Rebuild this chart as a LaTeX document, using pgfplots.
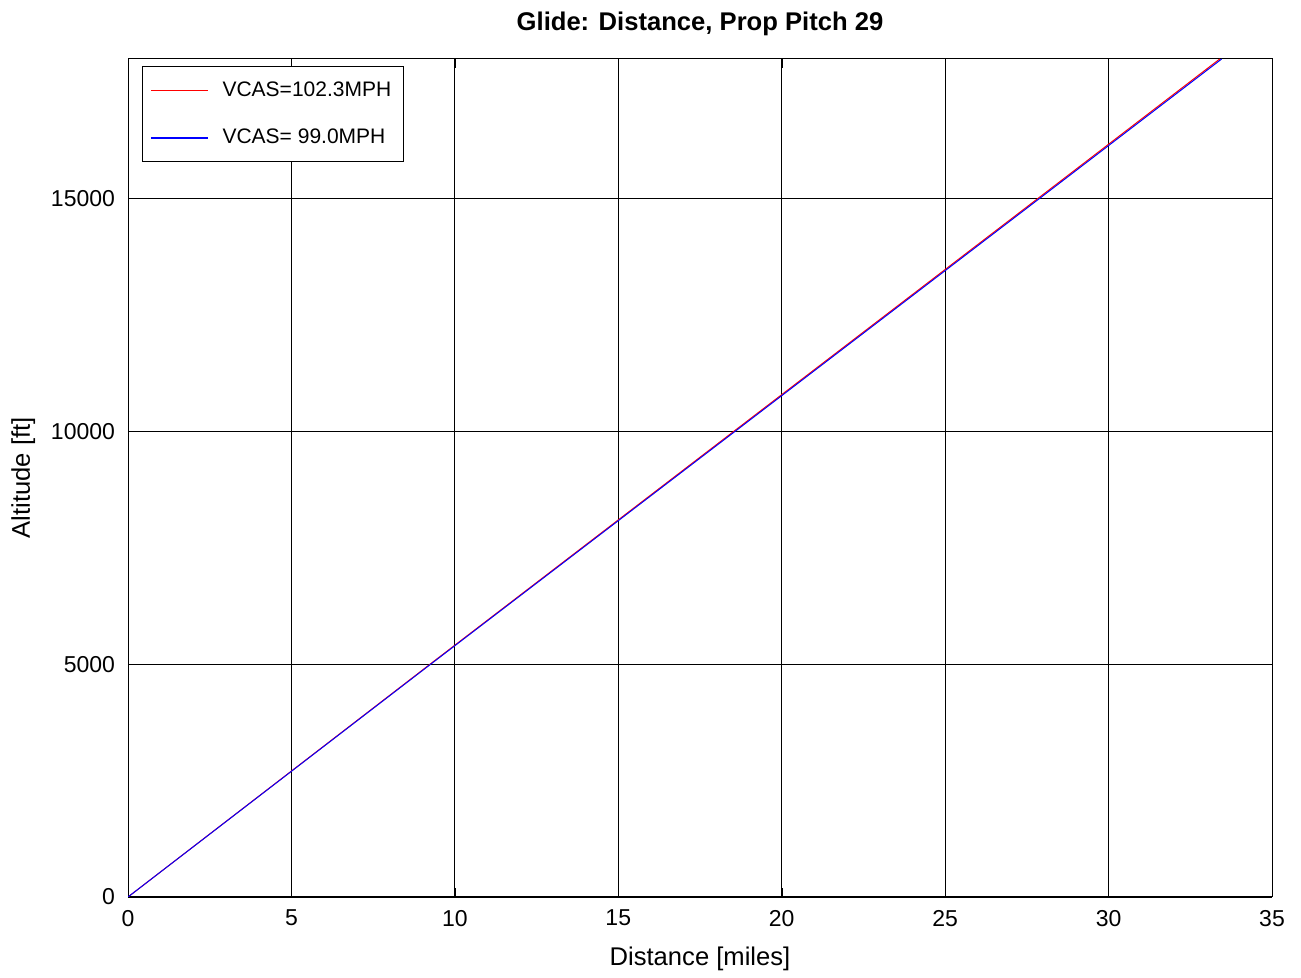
\documentclass[border=0pt]{standalone}
\usepackage{pgfplots}
\pgfplotsset{compat=1.18}
\usepackage{fontspec}
\setmainfont{Liberation Sans}
\begin{document}
\begin{tikzpicture}
\useasboundingbox (-64pt,-40.5pt) rectangle (586.5pt,448.5pt);
\begin{axis}[
  scale only axis,
  width=572pt, height=419pt,
  at={(0,0)}, anchor=south west,
  xmin=0, xmax=35, ymin=0, ymax=18000,
  xtick={0,5,...,35}, ytick={0,5000,10000,15000},
  grid=major,
  major grid style={black, line width=0.4pt},
  axis line style={black, line width=0.5pt},
  tick style={black},
  tick align=inside,
  /pgf/number format/assume math mode=true,
  scaled y ticks=false,
  yticklabel style={/pgf/number format/1000 sep={}, xshift=-3pt},
  xticklabel style={yshift=-3pt},
  ticklabel style={font=\fontsize{11.5}{13}\selectfont},
  xlabel={Distance [miles]}, ylabel={Altitude [ft]},
  label style={font=\fontsize{12.8}{14}\selectfont},
  xlabel style={yshift=-3.5pt},
  ylabel style={yshift=1pt},
  title={\textbf{Glide: Distance, Prop Pitch 29}},
  title style={font=\fontsize{12.8}{14}\selectfont, yshift=2pt},
  legend style={at={(0.0122,0.9916)}, anchor=north west, draw=black, fill=white,
    font=\fontsize{10.5}{12}\selectfont, row sep=11pt, inner ysep=5.5pt, inner xsep=4pt},
  legend cell align=left,
  legend image code/.code={\path[draw,#1] (0pt,0pt) -- (28.5pt,0pt);},
]
\addlegendimage{draw=red, line width=0.6pt}
\addlegendimage{draw=blue, line width=0.6pt}
\legend{\hspace{5pt}VCAS=102.3MPH, \hspace{5pt}VCAS= 99.0MPH}
\addplot[red, line width=0.5pt, forget plot] coordinates {(0,0) (9.24,5000) (18.53,10000) (27.83,15000) (33.40,18000)};
\addplot[blue, line width=0.5pt, forget plot] coordinates {(0,0) (9.26,5000) (18.57,10000) (27.88,15000) (33.46,18000)};
\end{axis}
\end{tikzpicture}
\end{document}
